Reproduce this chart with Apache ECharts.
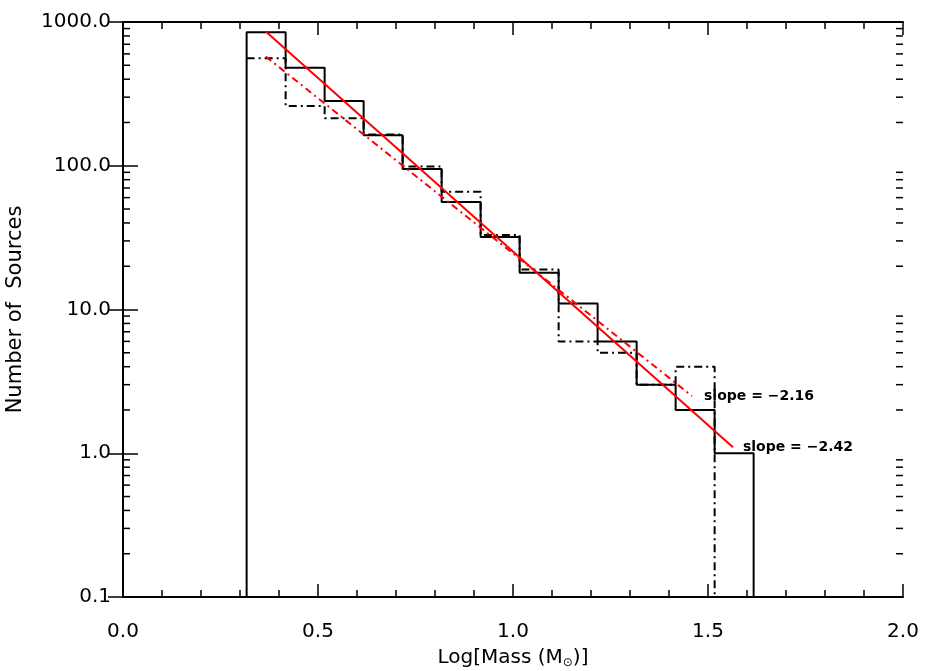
<!DOCTYPE html>
<html>
<head>
<meta charset="utf-8">
<script src="https://cdn.jsdelivr.net/npm/echarts@6/dist/echarts.min.js"></script>
<style>
  html, body { margin: 0; padding: 0; background: #fff; }
  #content { width: 927px; height: 671px; }
</style>
</head>
<body>
<div id="content"></div>
<script>
// bin edges of the histograms (log mass)
const binEdges = [0.317, 0.417, 0.517, 0.617, 0.717, 0.817, 0.917, 1.017, 1.117, 1.217, 1.317, 1.417, 1.517, 1.617];
// solid histogram counts
const countsAll = [850, 480, 282, 163, 95, 56, 32, 18, 11, 6, 3, 2, 1];
// dash-dot histogram counts
const countsSub = [560, 260, 214, 165, 99, 66, 33, 19, 6, 5, 3, 4];
// fitted power laws, end points
const fitAll = [[0.366, 859], [1.564, 1.10]];
const fitSub = [[0.366, 575], [1.459, 2.5]];
const slopeAll = 'slope = \u22122.42';
const slopeSub = 'slope = \u22122.16';
// minor ticks on the log axis
const yMinorTicks = [0.2, 0.3, 0.4, 0.5, 0.6, 0.7, 0.8, 0.9,
  2, 3, 4, 5, 6, 7, 8, 9,
  20, 30, 40, 50, 60, 70, 80, 90,
  200, 300, 400, 500, 600, 700, 800, 900];
const yMin = 0.1, yMax = 1000;

// outline of a histogram; left edge is skipped when it sits under another one
function stepPath(edges, counts, leftEdge) {
  let pts = leftEdge ? [[edges[0], yMin]] : [];
  for (let i = 0; i < counts.length; i++) {
    pts.push([edges[i], counts[i]]);
    pts.push([edges[i + 1], counts[i]]);
  }
  pts.push([edges[counts.length], yMin]);
  return pts;
}

let chart = echarts.init(document.getElementById('content'));
const font = 'DejaVu Sans';

let xBase = {
  type: 'value', min: 0, max: 2, interval: 0.5,
  axisLine: { lineStyle: { color: '#000', width: 2 } },
  axisTick: { inside: true, length: 13, lineStyle: { color: '#000', width: 1.5 } },
  minorTick: { show: true, splitNumber: 5, length: 7, lineStyle: { color: '#000', width: 1.5 } },
  splitLine: { show: false }
};
let yBase = {
  type: 'log', logBase: 10, min: yMin, max: yMax,
  axisLine: { show: true, lineStyle: { color: '#000', width: 2 } },
  axisTick: { show: true, inside: true, length: 15, lineStyle: { color: '#000', width: 1.5 } },
  splitLine: { show: false }
};

chart.setOption({
  animation: false,
  backgroundColor: '#fff',
  grid: { left: 123, right: 24, top: 22, bottom: 74, outerBoundsMode: 'none', containLabel: false },
  xAxis: [
    Object.assign({}, xBase, {
      position: 'bottom',
      axisLabel: { color: '#000', fontFamily: font, fontSize: 20, margin: 25,
        formatter: v => v.toFixed(1) },
      name: 'Log[Mass (M{sub|\u2299})]',
      nameLocation: 'middle', nameGap: 50,
      nameTextStyle: { color: '#000', fontFamily: font, fontSize: 20,
        rich: { sub: { fontFamily: font, fontSize: 12, color: '#000', padding: [10, 0, 0, 0] } } }
    }),
    Object.assign({}, xBase, { position: 'top', axisLabel: { show: false } })
  ],
  yAxis: [
    Object.assign({}, yBase, {
      position: 'left',
      axisLabel: { color: '#000', fontFamily: font, fontSize: 20, margin: 12,
        formatter: v => Number(v).toFixed(1) },
      name: 'Number of  Sources',
      nameLocation: 'middle', nameGap: 97,
      nameTextStyle: { color: '#000', fontFamily: font, fontSize: 21 }
    }),
    Object.assign({}, yBase, { position: 'right', axisLabel: { show: false } })
  ],
  series: [
    {
      type: 'custom', name: 'minor', xAxisIndex: 0, yAxisIndex: 0,
      data: yMinorTicks.map(v => [0, v]),
      silent: true, clip: false,
      renderItem: function (params, api) {
        let l = api.coord([0, api.value(1)]);
        let r = api.coord([2, api.value(1)]);
        let st = { stroke: '#000', lineWidth: 1.5 };
        return {
          type: 'group', children: [
            { type: 'line', shape: { x1: l[0], y1: l[1], x2: l[0] + 7, y2: l[1] }, style: st },
            { type: 'line', shape: { x1: r[0], y1: r[1], x2: r[0] - 7, y2: r[1] }, style: st }
          ]
        };
      }
    },
    {
      type: 'line', name: 'sub', data: stepPath(binEdges, countsSub, false),
      showSymbol: false, z: 2,
      lineStyle: { color: '#000', width: 2, type: [8, 4, 2, 4] }
    },
    {
      type: 'line', name: 'all', data: stepPath(binEdges, countsAll, true),
      showSymbol: false, z: 3,
      lineStyle: { color: '#000', width: 2 }
    },
    {
      type: 'line', name: 'fitSub', data: fitSub,
      showSymbol: false, z: 4,
      lineStyle: { color: '#ff0000', width: 2, type: [7, 4, 2, 4] },
      endLabel: { show: true, formatter: slopeSub, distance: 12, color: '#000',
        fontFamily: font, fontSize: 14, fontWeight: 'bold' }
    },
    {
      type: 'line', name: 'fitAll', data: fitAll,
      showSymbol: false, z: 5,
      lineStyle: { color: '#ff0000', width: 2 },
      endLabel: { show: true, formatter: slopeAll, distance: 10, color: '#000',
        fontFamily: font, fontSize: 14, fontWeight: 'bold' }
    }
  ]
});
</script>
</body>
</html>
